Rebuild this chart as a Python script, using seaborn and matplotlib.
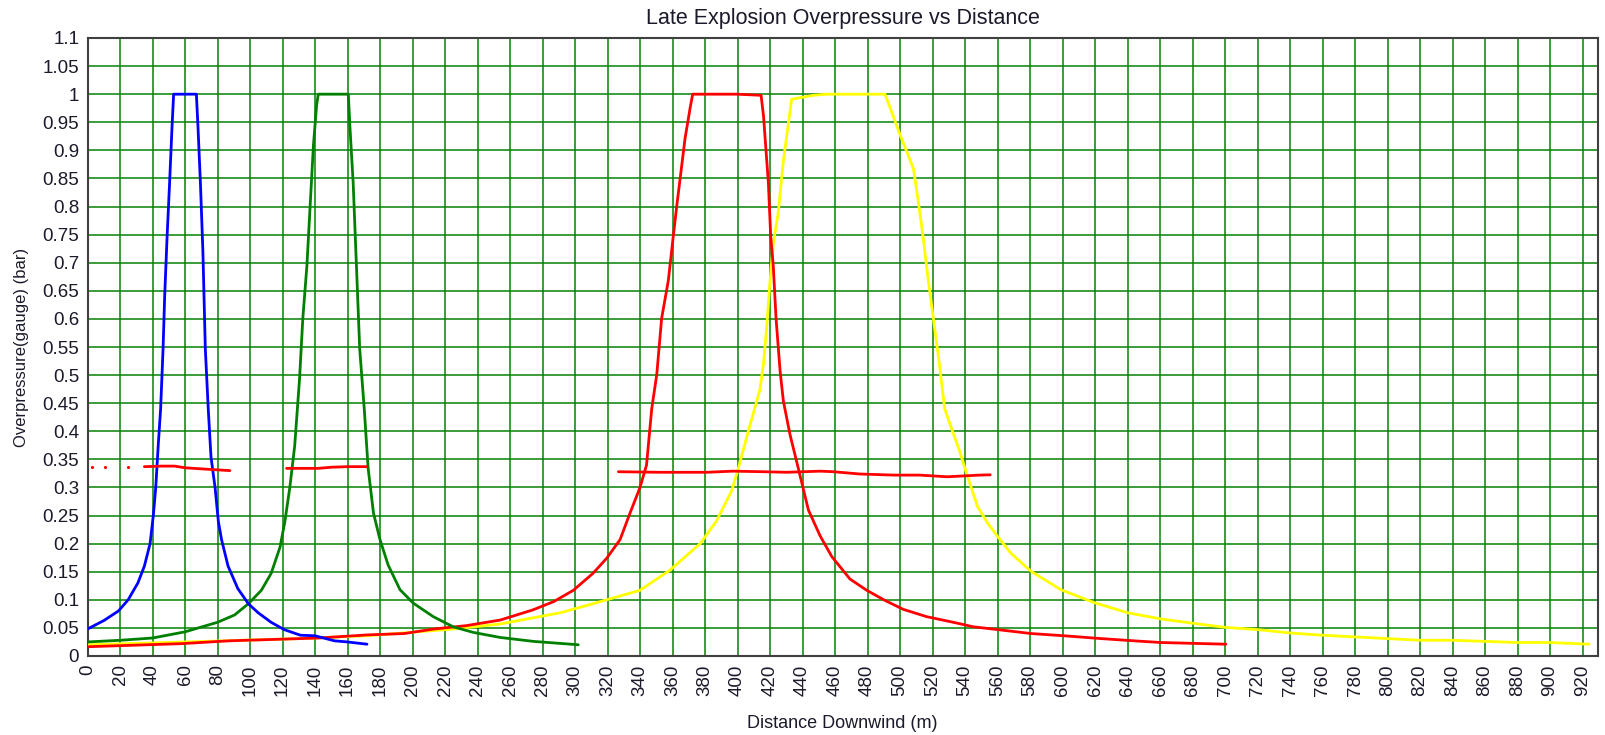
import matplotlib
matplotlib.use("Agg")
import matplotlib.pyplot as plt
import seaborn as sns
import numpy as np
import pandas as pd

# ---------------- data ----------------
blue_x = [0, 10, 19, 25, 31, 35, 38.5, 40.5, 42, 43.5, 45, 46.5, 47.5, 49, 50.5, 52, 53,
          67, 68, 69.5, 71, 72.5, 74.3, 76, 78.5, 80.5, 82.5, 86.5, 92.5, 99, 105, 113,
          121, 131, 140, 152, 160, 172]
blue_y = [0.048, 0.063, 0.080, 0.100, 0.130, 0.160, 0.200, 0.250, 0.300, 0.374, 0.440,
          0.547, 0.641, 0.748, 0.841, 0.941, 1.0, 1.0, 0.941, 0.841, 0.721, 0.547, 0.440,
          0.354, 0.300, 0.240, 0.207, 0.160, 0.120, 0.093, 0.077, 0.060, 0.047, 0.037,
          0.036, 0.027, 0.025, 0.021]

green_x = [0, 20, 40, 60, 80, 90.5, 99, 107, 113, 118.5, 121.5, 124.5, 127.5, 130.5, 132.5,
           135, 137, 139, 141, 142, 160.5, 161.5, 163.5, 165.5, 167.5, 170.3, 172.7, 176,
           180, 185, 192.3, 200.5, 212.8, 225, 237.4, 254, 274.4, 302]
green_y = [0.025, 0.028, 0.032, 0.043, 0.060, 0.073, 0.093, 0.117, 0.147, 0.194, 0.240,
           0.300, 0.374, 0.494, 0.601, 0.694, 0.801, 0.908, 0.981, 1.0, 1.0, 0.941, 0.841,
           0.694, 0.547, 0.440, 0.334, 0.254, 0.207, 0.162, 0.118, 0.094, 0.070, 0.052,
           0.042, 0.033, 0.026, 0.020]

red_x = [0, 58, 87, 142, 172, 195, 213, 233, 254, 274, 287, 299, 311, 319.5, 327.7, 333.8,
         340, 344, 347.2, 350.3, 353.3, 357.4, 360.5, 362.6, 364.6, 367.7, 370.8, 372.4,
         399.5, 414.5, 416, 419, 420.4, 422, 423.7, 426.2, 428.2, 432.3, 437.4, 443.6,
         450.8, 458, 469.2, 479.5, 490, 502, 516.4, 532.8, 545, 560, 580.5, 601, 623.6,
         644, 660.5, 700.5]
red_y = [0.0165, 0.022, 0.027, 0.032, 0.0375, 0.040, 0.048, 0.054, 0.064, 0.082, 0.097,
         0.117, 0.147, 0.174, 0.207, 0.254, 0.300, 0.340, 0.440, 0.501, 0.601, 0.668, 0.748,
         0.801, 0.848, 0.921, 0.975, 1.0, 1.0, 0.998, 0.961, 0.841, 0.748, 0.694, 0.601,
         0.507, 0.454, 0.394, 0.334, 0.260, 0.214, 0.177, 0.137, 0.117, 0.100, 0.083,
         0.070, 0.060, 0.052, 0.047, 0.040, 0.036, 0.031, 0.027, 0.024, 0.021]

yellow_x = [0, 60, 131, 172, 225, 254, 291, 311, 340, 358.5, 377, 387, 396.4, 400.5, 406.7,
            413.8, 416, 418, 420, 422, 425, 428.2, 431.3, 433.3, 446.7, 455, 490.8, 500,
            508.2, 511.3, 514.4, 517.4, 520.5, 523.6, 527.5, 531.3, 536.4, 541.5, 547.7,
            553.8, 560, 568.2, 580.5, 599, 619.5, 640, 660.5, 681, 700, 720, 740, 760, 780,
            800, 820, 840, 860, 880, 900, 924]
yellow_y = [0.020, 0.025, 0.031, 0.036, 0.048, 0.057, 0.077, 0.093, 0.117, 0.153, 0.200,
            0.240, 0.294, 0.334, 0.401, 0.474, 0.521, 0.587, 0.668, 0.734, 0.788, 0.881,
            0.948, 0.991, 0.998, 1.0, 1.0, 0.928, 0.868, 0.808, 0.741, 0.668, 0.601, 0.534,
            0.440, 0.408, 0.367, 0.320, 0.266, 0.237, 0.213, 0.183, 0.151, 0.118, 0.095,
            0.077, 0.066, 0.058, 0.051, 0.047, 0.041, 0.037, 0.034, 0.031, 0.028, 0.028,
            0.026, 0.024, 0.024, 0.021]

# red "threshold" segments
seg1_x = [35, 45.6, 53.7, 60, 76, 87.6]
seg1_y = [0.337, 0.338, 0.338, 0.335, 0.332, 0.330]
dots_x = [3, 11, 25]
dots_y = [0.337, 0.337, 0.336]
seg2_x = [122.5, 142, 150, 160, 172]
seg2_y = [0.334, 0.334, 0.336, 0.337, 0.337]
seg3_x = [326.7, 352, 381, 397, 416, 430, 451, 459, 475, 496, 512, 529, 549, 555.5]
seg3_y = [0.328, 0.327, 0.327, 0.329, 0.328, 0.327, 0.329, 0.328, 0.324, 0.322, 0.322,
          0.319, 0.322, 0.3225]

x_ticks = list(range(0, 921, 20))
y_ticks = [round(v * 0.05, 2) for v in range(0, 23)]

title = "Late Explosion Overpressure vs Distance"
x_label = "Distance Downwind (m)"
y_label = "Overpressure(gauge) (bar)"

# ---------------- plot ----------------
sns.set_style("white")
plt.rcParams['font.family'] = ['Liberation Sans', 'DejaVu Sans']

W, H = 1605, 735
fig = plt.figure(figsize=(W / 100, H / 100), dpi=100)
left, right, top, bottom = 87.5, 1598, 38, 656
ax = fig.add_axes([left / W, 1 - bottom / H, (right - left) / W, (bottom - top) / H])

lw = 2.0
kw = dict(ax=ax, sort=False, estimator=None, linewidth=lw, legend=False, zorder=3)
sns.lineplot(x=yellow_x, y=yellow_y, color="#FFFF00", **kw)
sns.lineplot(x=red_x, y=red_y, color="#FF0000", **kw)
sns.lineplot(x=green_x, y=green_y, color="#008000", **kw)
sns.lineplot(x=blue_x, y=blue_y, color="#0000FF", **kw)
for sx, sy in [(seg1_x, seg1_y), (seg2_x, seg2_y), (seg3_x, seg3_y)]:
    sns.lineplot(x=sx, y=sy, color="#FF0000", **kw)
sns.scatterplot(x=dots_x, y=dots_y, color="#FF0000", s=5, linewidth=0, ax=ax,
                legend=False, zorder=3)

ax.set_xlim(0, 929.5)
ax.set_ylim(0, 1.1)
ax.set_xticks(x_ticks)
ax.set_xticklabels([str(t) for t in x_ticks], rotation=90)
ax.set_yticks(y_ticks)
ax.set_yticklabels(["%g" % t for t in y_ticks])
ax.tick_params(axis="both", labelsize=13.5, length=4, width=1, color="#404040",
               direction="out", pad=2, labelcolor="#1a1a2a")
ax.grid(True, color="#008000", linewidth=1.2, alpha=0.9, zorder=1)
ax.set_axisbelow(True)
for s in ax.spines.values():
    s.set_color("#404040")
    s.set_linewidth(1.5)

ax.set_title(title, fontsize=15.5, color="#1a1a2a", pad=10)
ax.set_xlabel(x_label, fontsize=13, color="#1a1a2a", labelpad=14)
ax.set_ylabel(y_label, fontsize=12, color="#1a1a2a", labelpad=10)

fig.savefig("out.png", dpi=100)
